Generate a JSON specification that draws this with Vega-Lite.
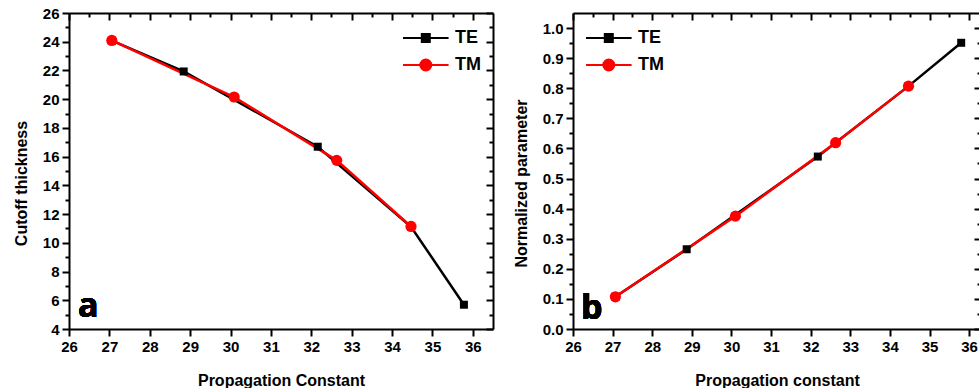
{
  "$schema": "https://vega.github.io/schema/vega-lite/v6.json",
  "padding": {"left": 13, "top": 6, "right": 0, "bottom": 0},
  "background": "white",
  "config": {
    "view": {"stroke": null},
    "axis": {
      "grid": false,
      "domainColor": "black",
      "domainWidth": 2,
      "tickColor": "black",
      "tickWidth": 2,
      "labelFont": "Liberation Sans",
      "labelFontSize": 15,
      "labelFontWeight": "bold",
      "labelColor": "black",
      "labelFlush": false,
      "labelOverlap": false,
      "labelPadding": 3,
      "titleFont": "Liberation Sans",
      "titleFontSize": 16,
      "titleFontWeight": "bold",
      "titleColor": "black"
    },
    "legend": {
      "title": null,
      "padding": 0,
      "rowPadding": 5,
      "symbolSize": 576,
      "symbolStrokeWidth": 2,
      "symbolOpacity": 1,
      "labelOffset": 27,
      "labelFont": "Liberation Sans",
      "labelFontSize": 18,
      "labelFontWeight": "bold",
      "labelColor": "black"
    }
  },
  "datasets": {
    "a": [
      {"beta": 27.06, "value": 24.07, "series": "TE"},
      {"beta": 28.84, "value": 21.93, "series": "TE"},
      {"beta": 32.16, "value": 16.69, "series": "TE"},
      {"beta": 34.47, "value": 11.12, "series": "TE"},
      {"beta": 35.78, "value": 5.69, "series": "TE"},
      {"beta": 27.06, "value": 24.09, "series": "TM"},
      {"beta": 30.09, "value": 20.15, "series": "TM"},
      {"beta": 32.63, "value": 15.74, "series": "TM"},
      {"beta": 34.47, "value": 11.14, "series": "TM"}
    ],
    "b": [
      {"beta": 27.07, "value": 0.107, "series": "TE"},
      {"beta": 28.87, "value": 0.265, "series": "TE"},
      {"beta": 32.18, "value": 0.573, "series": "TE"},
      {"beta": 34.47, "value": 0.807, "series": "TE"},
      {"beta": 35.8, "value": 0.951, "series": "TE"},
      {"beta": 27.07, "value": 0.107, "series": "TM"},
      {"beta": 30.1, "value": 0.375, "series": "TM"},
      {"beta": 32.63, "value": 0.619, "series": "TM"},
      {"beta": 34.47, "value": 0.807, "series": "TM"}
    ]
  },
  "spacing": 19,
  "hconcat": [
    {
      "width": 424,
      "height": 316,
      "data": {"name": "a"},
      "resolve": {"axis": {"x": "independent", "y": "independent"}},
      "layer": [
        {
          "mark": {"type": "line", "strokeWidth": 2.5},
          "encoding": {
            "x": {"field": "beta", "type": "quantitative", "scale": {"domain": [26, 36.5], "nice": false, "zero": false},
              "axis": {"orient": "bottom", "title": "Propagation Constant", "titlePadding": 18, "format": "d",
                "values": [26,26.5,27,27.5,28,28.5,29,29.5,30,30.5,31,31.5,32,32.5,33,33.5,34,34.5,35,35.5,36],
                "labelExpr": "datum.value % 1 === 0 ? datum.label : ''",
                "tickSize": {"condition": {"test": "datum.value % 1 !== 0", "value": 4}, "value": 7}}},
            "y": {"field": "value", "type": "quantitative", "scale": {"domain": [4, 26], "nice": false, "zero": false},
              "axis": {"orient": "left", "title": "Cutoff thickness", "titlePadding": 13, "titleY": 170, "format": "d",
                "values": [4,5,6,7,8,9,10,11,12,13,14,15,16,17,18,19,20,21,22,23,24,25,26],
                "labelExpr": "datum.value % 2 === 0 ? datum.label : ''",
                "tickSize": {"condition": {"test": "datum.value % 2 !== 0", "value": 4}, "value": 7}}},
            "color": {"field": "series", "type": "nominal", "scale": {"domain": ["TE", "TM"], "range": ["#000000", "#ff0000"]}, "legend": null}
          }
        },
        {
          "transform": [{"filter": "datum.series === 'TE'"}],
          "mark": {"type": "point", "shape": "square", "filled": true, "size": 64, "color": "#000000", "opacity": 1},
          "encoding": {
            "x": {"field": "beta", "type": "quantitative",
              "axis": {"orient": "top", "title": null, "labels": false,
                "values": [26,26.5,27,27.5,28,28.5,29,29.5,30,30.5,31,31.5,32,32.5,33,33.5,34,34.5,35,35.5,36],
                "tickSize": {"condition": {"test": "datum.value % 1 !== 0", "value": -4}, "value": -7}}},
            "y": {"field": "value", "type": "quantitative",
              "axis": {"orient": "right", "title": null, "labels": false,
                "values": [4,5,6,7,8,9,10,11,12,13,14,15,16,17,18,19,20,21,22,23,24,25,26],
                "tickSize": {"condition": {"test": "datum.value % 2 !== 0", "value": -4}, "value": -7}}}
          }
        },
        {
          "transform": [{"filter": "datum.series === 'TM'"}],
          "mark": {"type": "point", "shape": "circle", "filled": true, "size": 125, "color": "#ff0000", "opacity": 1},
          "encoding": {
            "x": {"field": "beta", "type": "quantitative", "axis": null},
            "y": {"field": "value", "type": "quantitative", "axis": null}
          }
        },
        {
          "mark": {"type": "point", "filled": true, "opacity": 0},
          "encoding": {
            "x": {"field": "beta", "type": "quantitative", "axis": null},
            "y": {"field": "value", "type": "quantitative", "axis": null},
            "fill": {"field": "series", "type": "nominal", "scale": {"domain": ["TE", "TM"], "range": ["#000000", "#ff0000"]},
              "legend": {"orient": "top-right", "offset": 12}},
            "stroke": {"field": "series", "type": "nominal", "scale": {"domain": ["TE", "TM"], "range": ["#000000", "#ff0000"]},
              "legend": {"orient": "top-right", "offset": 12}},
            "shape": {"field": "series", "type": "nominal",
              "scale": {"domain": ["TE", "TM"], "range": ["M-1,0H2.8M0.567,-0.333H1.233V0.333H0.567Z", "M-1,0H2.8M1.358,0A0.458,0.458,0,1,1,0.442,0A0.458,0.458,0,1,1,1.358,0Z"]},
              "legend": {"orient": "top-right", "offset": 12}}
          }
        },
        {
          "mark": {"type": "text", "text": "a", "font": "Open Sans", "fontSize": 34, "fontWeight": "bold", "align": "left", "baseline": "alphabetic", "color": "black"},
          "encoding": {
            "x": {"datum": 26.22, "type": "quantitative", "axis": null},
            "y": {"datum": 4.85, "type": "quantitative", "axis": null}
          }
        }
      ]
    },
    {
      "width": 408,
      "height": 316,
      "data": {"name": "b"},
      "resolve": {"axis": {"x": "independent", "y": "independent"}},
      "layer": [
        {
          "mark": {"type": "line", "strokeWidth": 2.5},
          "encoding": {
            "x": {"field": "beta", "type": "quantitative", "scale": {"domain": [26, 36.3], "nice": false, "zero": false},
              "axis": {"orient": "bottom", "title": "Propagation constant", "titlePadding": 18, "format": "d",
                "values": [26,26.5,27,27.5,28,28.5,29,29.5,30,30.5,31,31.5,32,32.5,33,33.5,34,34.5,35,35.5,36],
                "labelExpr": "datum.value % 1 === 0 ? datum.label : ''",
                "tickSize": {"condition": {"test": "datum.value % 1 !== 0", "value": 4}, "value": 7}}},
            "y": {"field": "value", "type": "quantitative", "scale": {"domain": [0, 1.05], "nice": false, "zero": false},
              "axis": {"orient": "left", "title": "Normalized parameter", "titlePadding": 13, "titleY": 170, "format": ".1f",
                "values": [0,0.05,0.1,0.15,0.2,0.25,0.3,0.35,0.4,0.45,0.5,0.55,0.6,0.65,0.7,0.75,0.8,0.85,0.9,0.95,1.0],
                "labelExpr": "round(datum.value*100) % 10 === 0 ? datum.label : ''",
                "tickSize": {"condition": {"test": "round(datum.value*100) % 10 !== 0", "value": 4}, "value": 7}}},
            "color": {"field": "series", "type": "nominal", "scale": {"domain": ["TE", "TM"], "range": ["#000000", "#ff0000"]}, "legend": null}
          }
        },
        {
          "transform": [{"filter": "datum.series === 'TE'"}],
          "mark": {"type": "point", "shape": "square", "filled": true, "size": 64, "color": "#000000", "opacity": 1},
          "encoding": {
            "x": {"field": "beta", "type": "quantitative",
              "axis": {"orient": "top", "title": null, "labels": false,
                "values": [26,26.5,27,27.5,28,28.5,29,29.5,30,30.5,31,31.5,32,32.5,33,33.5,34,34.5,35,35.5,36],
                "tickSize": {"condition": {"test": "datum.value % 1 !== 0", "value": -4}, "value": -7}}},
            "y": {"field": "value", "type": "quantitative",
              "axis": {"orient": "right", "title": null, "labels": false,
                "values": [0,0.05,0.1,0.15,0.2,0.25,0.3,0.35,0.4,0.45,0.5,0.55,0.6,0.65,0.7,0.75,0.8,0.85,0.9,0.95,1.0],
                "tickSize": {"condition": {"test": "round(datum.value*100) % 10 !== 0", "value": -4}, "value": -7}}}
          }
        },
        {
          "transform": [{"filter": "datum.series === 'TM'"}],
          "mark": {"type": "point", "shape": "circle", "filled": true, "size": 125, "color": "#ff0000", "opacity": 1},
          "encoding": {
            "x": {"field": "beta", "type": "quantitative", "axis": null},
            "y": {"field": "value", "type": "quantitative", "axis": null}
          }
        },
        {
          "mark": {"type": "point", "filled": true, "opacity": 0},
          "encoding": {
            "x": {"field": "beta", "type": "quantitative", "axis": null},
            "y": {"field": "value", "type": "quantitative", "axis": null},
            "fill": {"field": "series", "type": "nominal", "scale": {"domain": ["TE", "TM"], "range": ["#000000", "#ff0000"]},
              "legend": {"orient": "top-left", "offset": 12}},
            "stroke": {"field": "series", "type": "nominal", "scale": {"domain": ["TE", "TM"], "range": ["#000000", "#ff0000"]},
              "legend": {"orient": "top-left", "offset": 12}},
            "shape": {"field": "series", "type": "nominal",
              "scale": {"domain": ["TE", "TM"], "range": ["M-1,0H2.8M0.567,-0.333H1.233V0.333H0.567Z", "M-1,0H2.8M1.358,0A0.458,0.458,0,1,1,0.442,0A0.458,0.458,0,1,1,1.358,0Z"]},
              "legend": {"orient": "top-left", "offset": 12}}
          }
        },
        {
          "mark": {"type": "text", "text": "b", "font": "Open Sans", "fontSize": 34, "fontWeight": "bold", "align": "left", "baseline": "alphabetic", "color": "black"},
          "encoding": {
            "x": {"datum": 26.2, "type": "quantitative", "axis": null},
            "y": {"datum": 0.034, "type": "quantitative", "axis": null}
          }
        }
      ]
    }
  ]
}
